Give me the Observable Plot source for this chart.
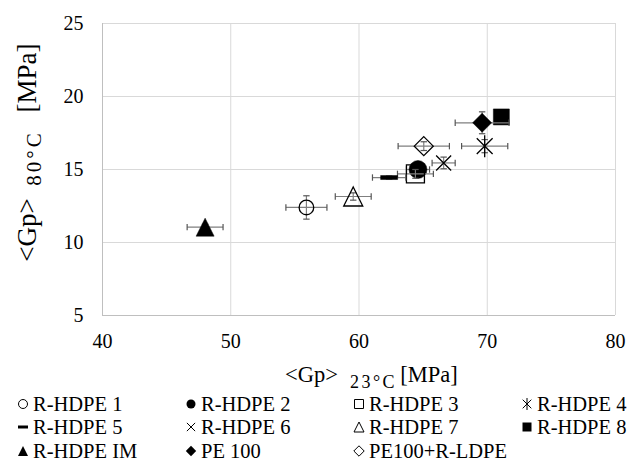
<!DOCTYPE html>
<html><head><meta charset="utf-8">
<script src="https://cdn.jsdelivr.net/npm/d3@7"></script>
<script src="https://cdn.jsdelivr.net/npm/@observablehq/plot@0.6"></script>
<style>
body{margin:0;background:#fff;font-family:"Liberation Serif",serif;}
#chart svg{display:block;}
#legend{position:relative;width:632px;height:75px;font-size:20.5px;color:#000;font-family:"Liberation Serif",serif;}
.li{position:absolute;display:flex;align-items:center;white-space:nowrap;height:24px;line-height:24px;}
.li svg{margin-right:3px;display:block;}
</style>
</head><body>
<div id="chart"></div><div id="legend"></div>
<script>
const names = ["R-HDPE 1","R-HDPE 2","R-HDPE 3","R-HDPE 4","R-HDPE 5","R-HDPE 6","R-HDPE 7","R-HDPE 8","R-HDPE IM","PE 100","PE100+R-LDPE"];
const gp23 = [55.9, 64.6, 64.4, 69.8, 62.35, 66.6, 59.55, 71.1, 48.0, 69.6, 65.05];
const gp80 = [12.4, 15.0, 14.7, 16.6, 14.45, 15.45, 13.15, 18.6, 11.05, 18.2, 16.6];
const err23 = [1.6, 0.9, 1.4, 1.8, 1.3, 0.9, 1.4, 0.5, 1.4, 2.1, 2.0];
const err80 = [0.8, 0.4, 0.3, 0.45, 0.1, 0.4, 0.25, 0.3, 0.2, 0.75, 0.3];
const xTicks = [40, 50, 60, 70, 80];
const yTicks = [5, 10, 15, 20, 25];
const xTitle = ["<Gp>", "23°C", "[MPa]"];
const yTitle = ["<Gp>", "80°C", "[MPa]"];

// marker styles: [shape, filled, half-size in px]
const markerStyles = [
  ["circle", false, 7.3], ["circle", true, 9], ["square", false, 9], ["star", false, 11],
  ["dash", true, 8.5], ["times", false, 10], ["triangle", false, 9.5], ["square", true, 8],
  ["triangle", true, 9], ["diamond", true, 9.5], ["diamond", false, 9.5]
];

const shapes = {
  circle(c, r){ c.moveTo(r,0); c.arc(0,0,r,0,2*Math.PI); c.closePath(); },
  square(c, r){ c.rect(-r,-r,2*r,2*r); },
  triangle(c, r){ c.moveTo(0,-r); c.lineTo(r,r); c.lineTo(-r,r); c.closePath(); },
  diamond(c, r){ c.moveTo(0,-r); c.lineTo(r,0); c.lineTo(0,r); c.lineTo(-r,0); c.closePath(); },
  times(c, r){ const a=r*0.75; c.moveTo(-a,-a); c.lineTo(a,a); c.moveTo(a,-a); c.lineTo(-a,a); },
  star(c, r){ const a=r*0.72; c.moveTo(-a,-a); c.lineTo(a,a); c.moveTo(a,-a); c.lineTo(-a,a); c.moveTo(0,-r); c.lineTo(0,r); },
  dash(c, r){ c.rect(-r,-2,2*r,4); },
  vcap(c, r){ c.moveTo(0,-r); c.lineTo(0,r); },
  hcap(c, r){ c.moveTo(-r,0); c.lineTo(r,0); }
};
const sym = name => ({draw(ctx, size){ const r = Math.sqrt(size/Math.PI); shapes[name](ctx, r); }});

const rows = names.map((n,i)=>({name:n, x:gp23[i], y:gp80[i], ex:err23[i], ey:err80[i], i}));

const FONT = "'Liberation Serif', serif";
const ebColor = "#7f7f7f";
const marks = [
  Plot.gridX(xTicks, {stroke:"#d9d9d9", strokeOpacity:1}),
  Plot.gridY(yTicks, {stroke:"#d9d9d9", strokeOpacity:1}),
  Plot.ruleX([40], {stroke:"#bfbfbf"}),
  Plot.ruleY([5], {stroke:"#bfbfbf"}),
  Plot.axisX(xTicks, {tickSize:0, tickPadding:18, fontSize:20, fontFamily:FONT, label:null}),
  Plot.axisY(yTicks, {tickSize:0, tickPadding:19, fontSize:20, fontFamily:FONT, label:null})
];
rows.forEach((d,k)=>{
  const [shape, filled, r] = markerStyles[k];
  const one = [d];
  marks.push(
    Plot.link(one, {x1:q=>q.x-q.ex, x2:q=>q.x+q.ex, y1:"y", y2:"y", stroke:ebColor, strokeWidth:1.2}),
    Plot.link(one, {x1:"x", x2:"x", y1:q=>q.y-q.ey, y2:q=>q.y+q.ey, stroke:ebColor, strokeWidth:1.2}),
    Plot.dot(one, {x:q=>q.x-q.ex, y:"y", symbol:sym("vcap"), r:3.2, stroke:"#555", strokeWidth:1.2, fill:"none"}),
    Plot.dot(one, {x:q=>q.x+q.ex, y:"y", symbol:sym("vcap"), r:3.2, stroke:"#555", strokeWidth:1.2, fill:"none"}),
    Plot.dot(one, {x:"x", y:q=>q.y-q.ey, symbol:sym("hcap"), r:3.2, stroke:"#555", strokeWidth:1.2, fill:"none"}),
    Plot.dot(one, {x:"x", y:q=>q.y+q.ey, symbol:sym("hcap"), r:3.2, stroke:"#555", strokeWidth:1.2, fill:"none"}),
    Plot.dot(one, {x:"x", y:"y", symbol:sym(shape), r, fill: filled ? "#000" : "none", stroke:"#000", strokeWidth: filled ? 0.5 : 1.3})
  );
});

const chart = Plot.plot({
  width:632, height:390,
  marginLeft:102, marginRight:17, marginTop:23, marginBottom:75,
  x:{domain:[40,80]},
  y:{domain:[5,25]},
  style:{fontFamily:FONT, fontSize:"20px", color:"#000", background:"#fff", overflow:"visible"},
  marks
});
document.getElementById("chart").appendChild(chart);
chart.querySelectorAll("text").forEach(t => t.setAttribute("font-family", FONT));

// axis titles with subscripts (pieces centred where the reference shows them)
const svg = d3.select(chart);
// [centre, baseline, font size, letter spacing]
const xPieces = [[311.5, 382, 22.5, 0], [373.5, 388, 18, 2.5], [429, 382, 22.5, 0]];
xTitle.forEach((s,i)=>{
  const [cx, by, fs, ls] = xPieces[i];
  svg.append("text").attr("x", cx).attr("y", by).attr("text-anchor","middle")
    .attr("font-family",FONT).attr("font-size", fs).attr("letter-spacing", ls).attr("fill","#000").text(s);
});
const yPieces = [[230, 36, 27, 0], [158, 41, 21, 3], [78, 36, 27, 0]];
yTitle.forEach((s,i)=>{
  const [cy, bx, fs, ls] = yPieces[i];
  svg.append("text").attr("transform",`translate(${bx},${cy}) rotate(-90)`).attr("text-anchor","middle")
    .attr("font-family",FONT).attr("font-size", fs).attr("letter-spacing", ls).attr("fill","#000").text(s);
});

// legend
const legend = document.getElementById("legend");
const colX = [16, 184, 352, 520];
const rowY = [14, 37, 61];
const legendSize = {circle:4.5, square:4.5, star:6, dash:5, times:5.5, triangle:5, diamond:5.2};
names.forEach((n,k)=>{
  const [shape, filled] = markerStyles[k];
  const div = document.createElement("div");
  div.className = "li";
  div.style.left = colX[k%4] + "px";
  div.style.top = (rowY[Math.floor(k/4)] - 12) + "px";
  let dstr;
  if (shape === "dash") { dstr = "M-5,-1.5h10v3h-10z"; }
  else { const p = d3.path(); shapes[shape](p, legendSize[shape]); dstr = p.toString(); }
  const ns = "http://www.w3.org/2000/svg";
  const s = document.createElementNS(ns, "svg");
  s.setAttribute("width", "14"); s.setAttribute("height", "14"); s.setAttribute("viewBox", "-7 -7 14 14");
  const path = document.createElementNS(ns, "path");
  path.setAttribute("d", dstr);
  path.setAttribute("fill", filled ? "#000" : "none");
  path.setAttribute("stroke", filled ? "none" : "#000");
  path.setAttribute("stroke-width", "1");
  s.appendChild(path);
  const span = document.createElement("span");
  span.textContent = n;
  div.appendChild(s); div.appendChild(span);
  legend.appendChild(div);
});
</script>
</body></html>
